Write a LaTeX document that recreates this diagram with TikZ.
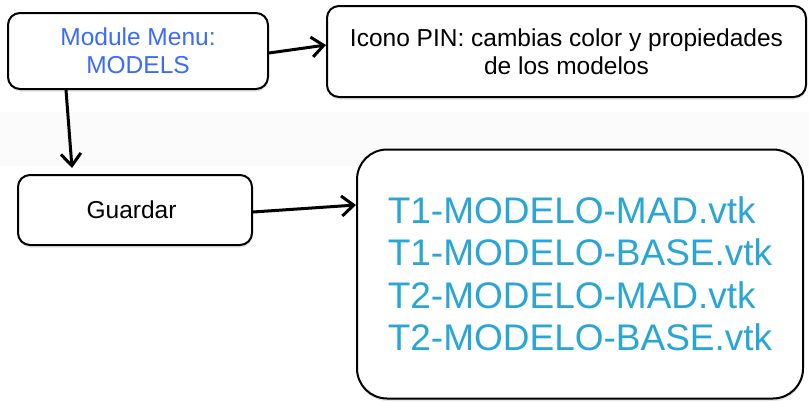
\documentclass[tikz,border=0pt]{standalone}
\usepackage{fontspec}
\setmainfont{Liberation Sans}
\usetikzlibrary{arrows.meta,shadows}
\definecolor{menublue}{RGB}{59,107,250}
\definecolor{filecyan}{RGB}{41,166,214}

\begin{document}
\begin{tikzpicture}[x=1pt, y=-1pt,
    box/.style={draw=black, line width=2pt, rounded corners=12pt, fill=white,
      align=center, inner sep=0pt,
      drop shadow={shadow xshift=0.5pt, shadow yshift=-2.5pt, opacity=0.2}},
    boxtext/.style={font=\fontsize{24.5}{28}\selectfont},
    link/.style={-{Straight Barb[length=12pt, width=20pt]}, line width=3pt}]

        \useasboundingbox (0,0) rectangle (809,402);

        % Faint band behind the arrows
        \fill[gray!3] (0,112) rectangle (809,166);

        % Top row
        \node[box, boxtext, text=menublue, minimum width=260pt, minimum height=76pt] (menu) at (138,51) {
            Module Menu:\\MODELS
        };
        \node[box, boxtext, minimum width=479pt, minimum height=91pt] (pin) at (566.5,51.5) {
            Icono PIN: cambias color y propiedades\\de los modelos
        };

        % Bottom row
        \node[box, boxtext, minimum width=234pt, minimum height=70pt] (guardar) at (135,210) {
            Guardar
        };
        \node[box, rounded corners=30pt, align=left, text=filecyan,
              font=\fontsize{37}{42.5}\selectfont,
              minimum width=446pt, minimum height=249pt] (files) at (580,274) {
            T1-MODELO-MAD.vtk\\
            T1-MODELO-BASE.vtk\\
            T2-MODELO-MAD.vtk\\
            T2-MODELO-BASE.vtk
        };

        % Arrows
        \draw[link] ([yshift=-2pt]menu.east) -- ([yshift=6.5pt]pin.west);
        \draw[link] ([xshift=59pt]menu.south west) -- ([xshift=55pt, yshift=6pt]guardar.north west);
        \draw[link] ([yshift=-2pt]guardar.east) -- ([yshift=69pt]files.west);

    \end{tikzpicture}
\end{document}
